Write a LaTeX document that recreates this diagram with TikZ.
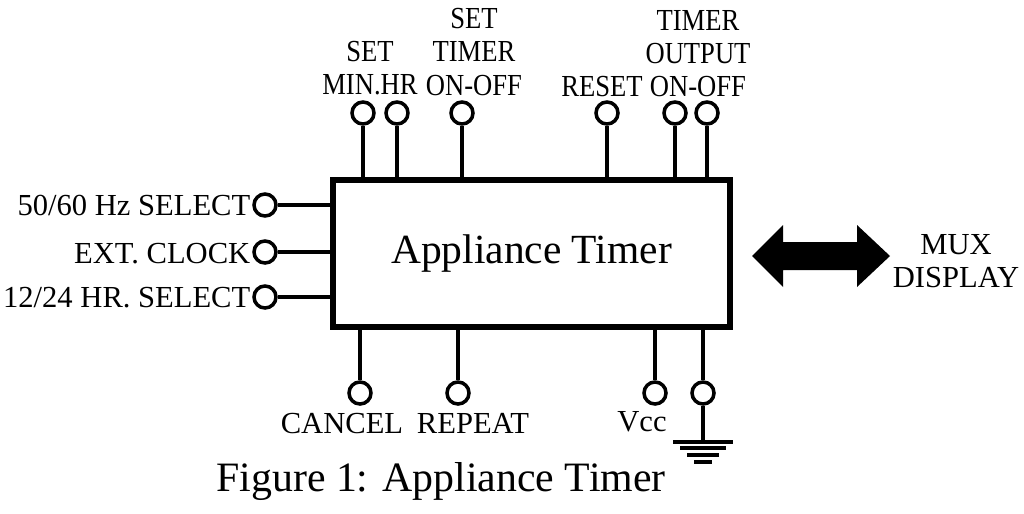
\documentclass[tikz,border=0pt]{standalone}
\usepackage{fontspec}
\setmainfont{Liberation Serif}
\usetikzlibrary{positioning}

\tikzset{
  pad/.style={circle, draw, line width=1pt, minimum size=2.2mm, inner sep=0pt},
  wire/.style={line width=1.1pt},
  lbl/.style={inner sep=0pt, align=center, font=\fontsize{8.7}{9.4}\selectfont},
  toplbl/.style={lbl, xscale=0.87},
}

\begin{document}
\begin{tikzpicture}[x=0.1mm, y=-0.1mm]
  \useasboundingbox (0,0) rectangle (1024,513);

  % the chip
  \node[draw, line width=1.8pt, minimum width=3.97cm, minimum height=1.47cm,
        font=\fontsize{11.8}{14}\selectfont] (timer) at (531.5,253.5) {Appliance Timer};

  % pads on top
  \foreach \x/\n in {363/t1, 397/t2, 462/t3, 607/t4, 675/t5, 707/t6} {
    \node[pad] (\n) at (\x,113) {};
    \draw[wire] (\n) -- (\n |- timer.north);
  }
  % pads on the left
  \foreach \y/\n in {205/l1, 252/l2, 297/l3} {
    \node[pad] (\n) at (265,\y) {};
    \draw[wire] (\n) -- (\n -| timer.west);
  }
  % pads below
  \foreach \x/\n in {360/b1, 458/b2, 655/b3, 703/b4} {
    \node[pad] (\n) at (\x,393) {};
    \draw[wire] (\n) -- (\n |- timer.south);
  }

  % ground
  \draw[wire] (b4) -- ++(0,49) coordinate (gnd);
  \draw[wire] (gnd) ++(-30,0) -- ++(60,0)
              (gnd) ++(-23,6) -- ++(46,0)
              (gnd) ++(-16,13) -- ++(32,0)
              (gnd) ++(-9,20) -- ++(18,0);

  \node[toplbl] (setmin) at (370,68) {SET\\MIN.HR};
  \node[toplbl] (settimer) at (474,52) {SET\\TIMER\\ON-OFF};
  \node[toplbl] (reset) at (602,87) {RESET};
  \node[toplbl] (timerout) at (698,54) {TIMER\\OUTPUT\\ON-OFF};

  \node[lbl, anchor=base east] (hzsel) at (251,215) {50/60 Hz SELECT};
  \node[lbl, anchor=base east] (extclk) at (251,263) {EXT. CLOCK};
  \node[lbl, anchor=base east] (hrsel) at (251,307) {12/24 HR. SELECT};

  \node[lbl, anchor=base] (cancel) at (342,433) {CANCEL};
  \node[lbl, anchor=base] (repeat) at (473,433) {REPEAT};
  \node[lbl, anchor=base] (vcc) at (642,431) {Vcc};

  % bus arrow to the display
  \fill (752,256) -- (783,225) -- (783,242) -- (857,242) -- (857,225) -- (890,256)
        -- (857,287) -- (857,270) -- (783,270) -- (783,287) -- cycle;
  \node[lbl] (mux) at (956,261) {MUX\\DISPLAY};

  \node[anchor=base, inner sep=0pt, font=\fontsize{11.9}{14}\selectfont] (caption) at (441,491)
    {Figure 1: Appliance Timer};
\end{tikzpicture}
\end{document}
